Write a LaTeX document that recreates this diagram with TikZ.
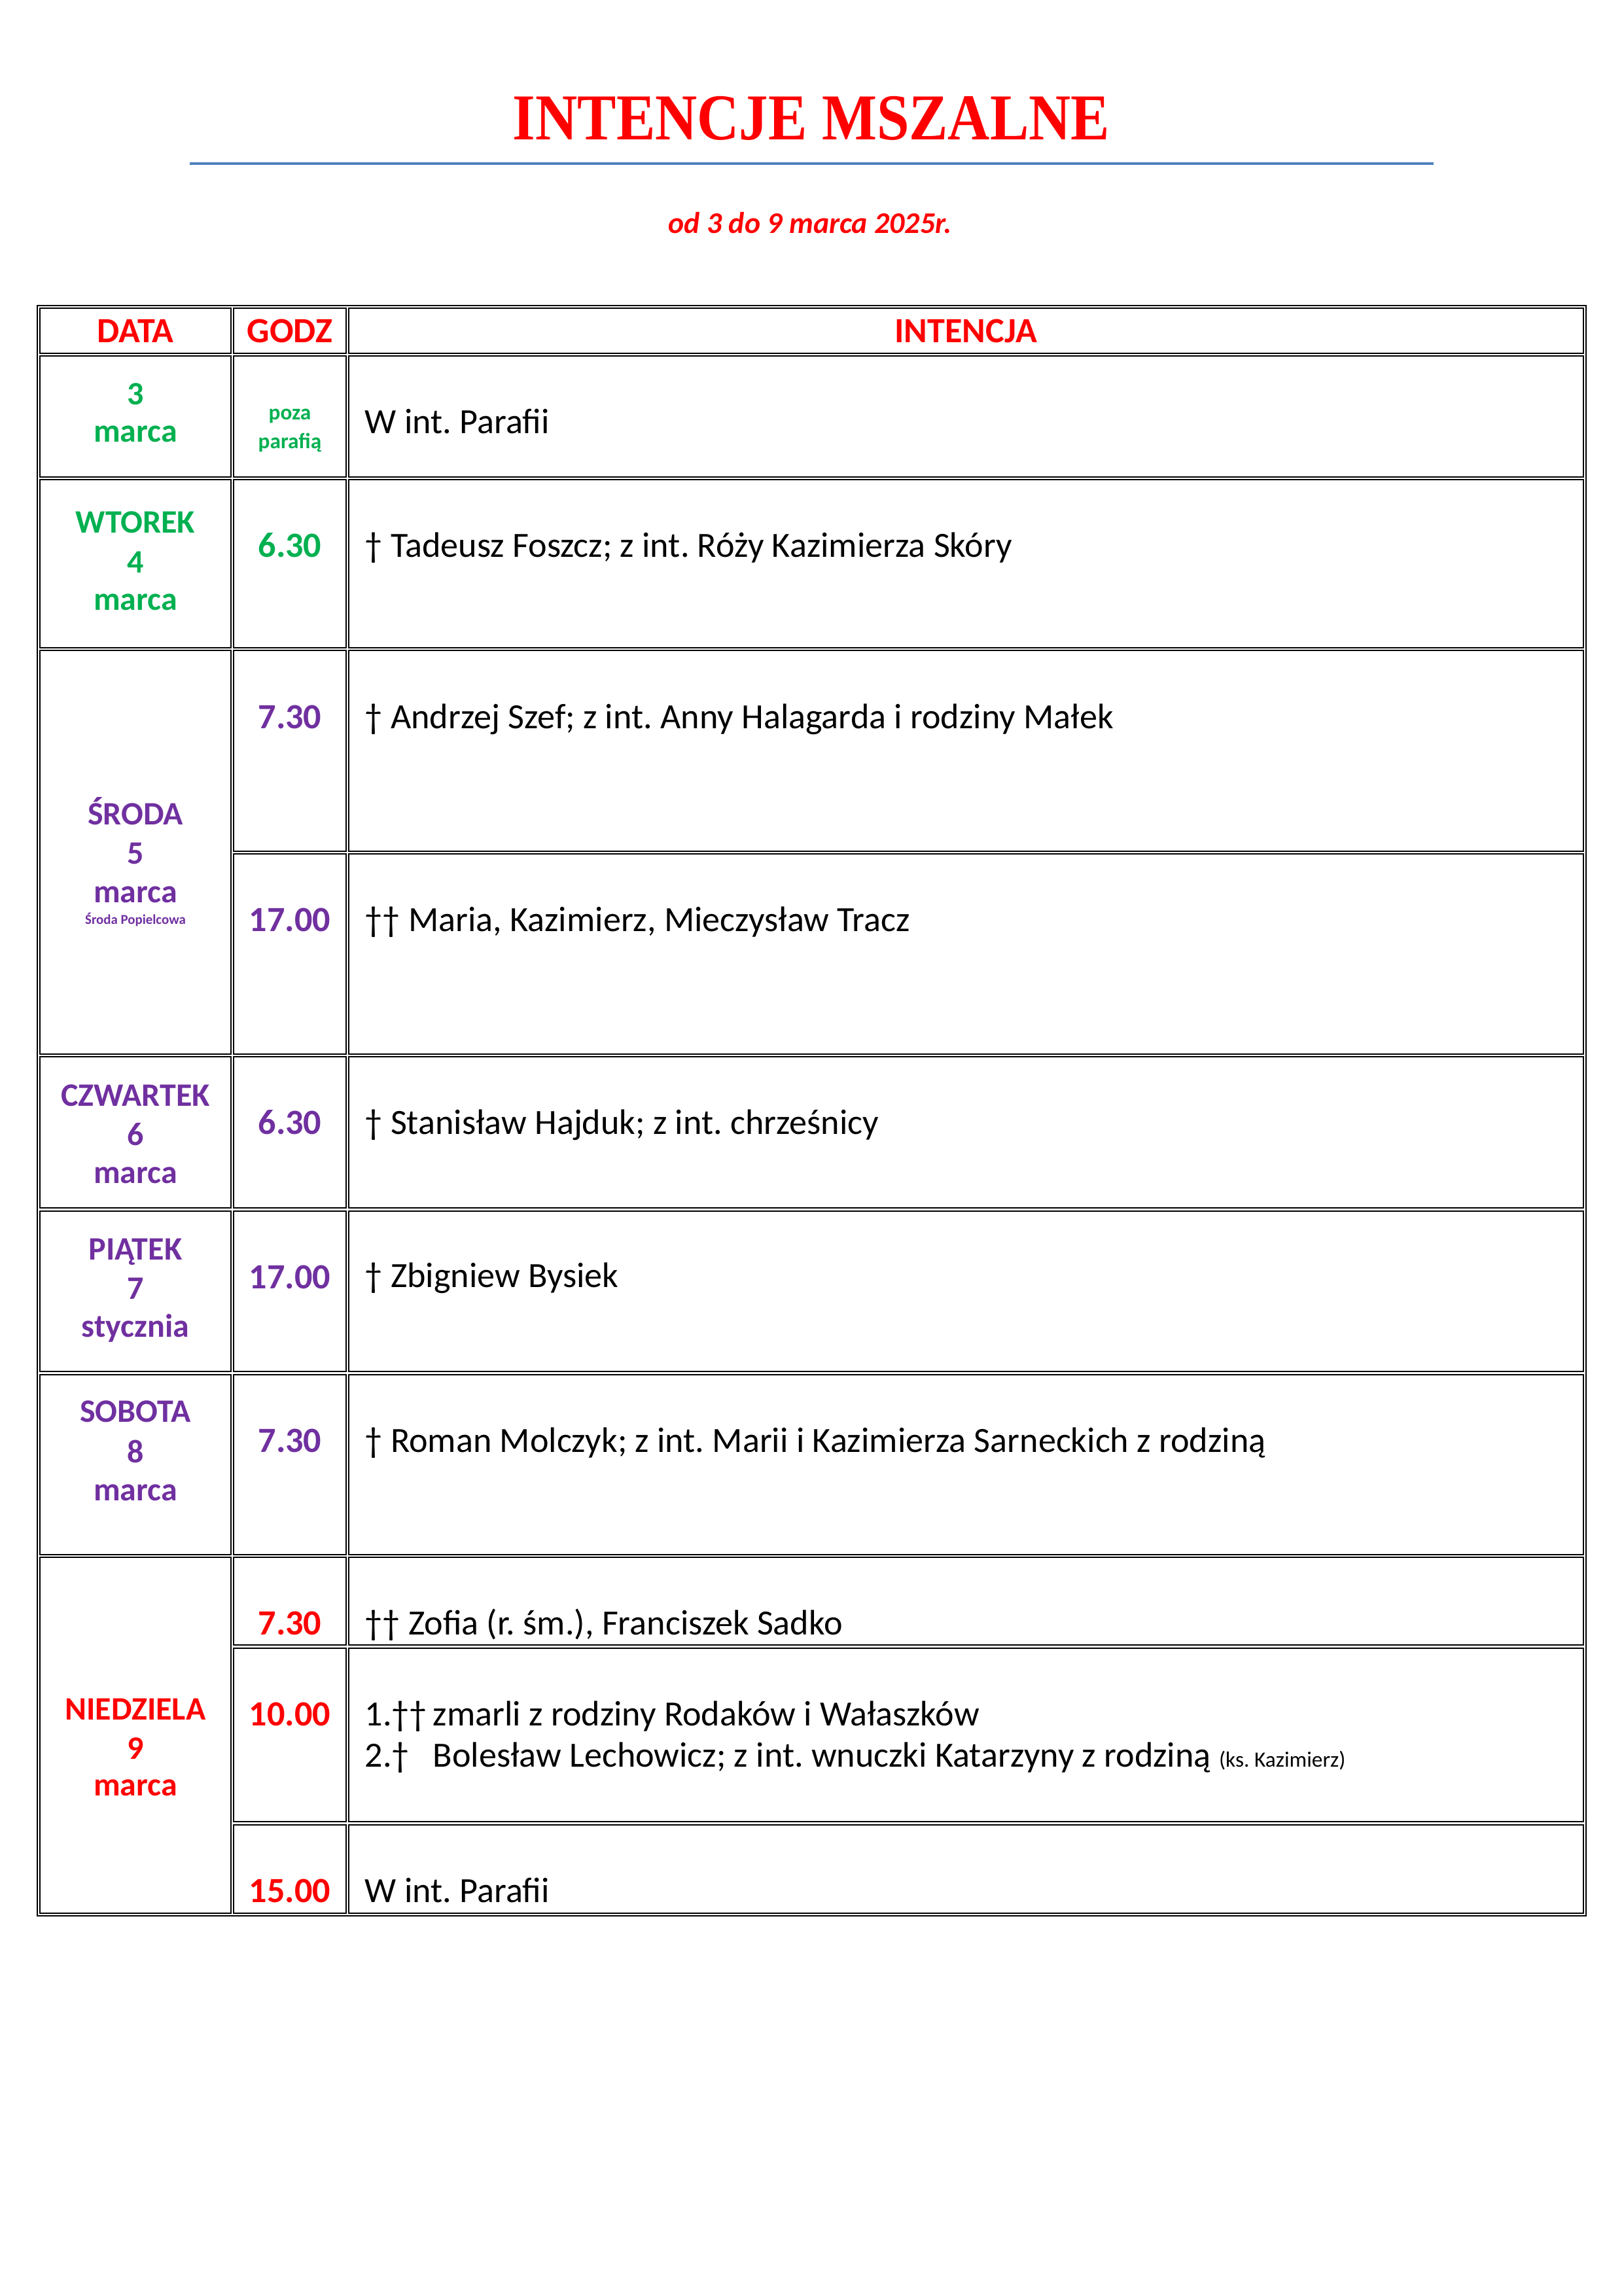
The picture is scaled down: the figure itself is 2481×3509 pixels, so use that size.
\documentclass[tikz,border=0pt]{standalone}
\usepackage{fontspec}
\setmainfont{Carlito}
\newfontfamily\titlefont[FakeStretch=0.89]{Liberation Serif}
\definecolor{kred}{HTML}{FF0000}
\definecolor{kgreen}{HTML}{00B050}
\definecolor{kpurple}{HTML}{7030A0}
\definecolor{kblue}{HTML}{4F81BD}
\frenchspacing
\begin{document}
\begin{tikzpicture}
[x=0.24pt,y=-0.24pt,
  celldecorate/.style={line width=0.35pt},%
  outerdecorate/.style={line width=0.6pt},%
  daydecorate/.style={anchor=base,inner sep=0pt,font=\bfseries\fontsize{12}{14}\selectfont},%
  hourdecorate/.style={anchor=base,inner sep=0pt,font=\bfseries\fontsize{13}{15}\selectfont},%
  textdecorate/.style={anchor=base west,inner sep=0pt,font=\fontsize{13}{15}\selectfont},%
  headdecorate/.style={anchor=base,inner sep=0pt,text=kred,font=\bfseries\fontsize{13}{15}\selectfont}]
\useasboundingbox (0,0) rectangle (2481,3509);
% title
\node (title) at (1240,214) [anchor=base,inner sep=0pt,text=kred,font=\titlefont\bfseries\fontsize{24}{28}\selectfont] {INTENCJE MSZALNE};
\draw [kblue,line width=0.75pt] (290,250) -- (2191,250);
\node (subtitle) at (1238,357) [anchor=base,inner sep=0pt,text=kred,font=\bfseries\itshape\fontsize{11}{13}\selectfont] {od 3 do 9 marca 2025r.};
% table frame and cells
\draw [outerdecorate] (57,467) rectangle (2424,2928);
\foreach \top/\bot in {471/540,544/729,733/990,994/1611,1615/1846,1851/2096,2101/2376,2380/2924}
  \draw [celldecorate] (61,\top) rectangle (353,\bot);
\foreach \top/\bot in {471/540,544/729,733/990,994/1301,1305/1611,1615/1846,1851/2096,2101/2376,2380/2514,2519/2784,2789/2924}
  {\draw [celldecorate] (357,\top) rectangle (529,\bot);
   \draw [celldecorate] (533,\top) rectangle (2420,\bot);}
% header
\node (hdata) at (207,524) [headdecorate] {DATA};
\node (hgodz) at (443,524) [headdecorate] {GODZ};
\node (hint) at (1476,524) [headdecorate] {INTENCJA};
% 3 marca
\node (d3) at (207,619) [daydecorate,text=kgreen] {3};
\node (m3) at (207,676) [daydecorate,text=kgreen] {marca};
\node (g3a) at (443,642) [hourdecorate,text=kgreen,font=\bfseries\fontsize{8}{10}\selectfont] {poza};
\node (g3b) at (443,685) [hourdecorate,text=kgreen,font=\bfseries\fontsize{8}{10}\selectfont] {parafią};
\node (i3) at (557,663) [textdecorate] {W int. Parafii};
% wtorek
\node (w4) at (207,815) [daydecorate,text=kgreen] {WTOREK};
\node (d4) at (207,875) [daydecorate,text=kgreen] {4};
\node (m4) at (207,932) [daydecorate,text=kgreen] {marca};
\node (g4) at (443,852) [hourdecorate,text=kgreen] {6.30};
\node (i4) at (557,852) [textdecorate] {† Tadeusz Foszcz; z int. Róży Kazimierza Skóry};
% sroda
\node (w5) at (207,1260) [daydecorate,text=kpurple] {ŚRODA};
\node (d5) at (207,1320) [daydecorate,text=kpurple] {5};
\node (m5) at (207,1379) [daydecorate,text=kpurple] {marca};
\node (p5) at (207,1412) [daydecorate,text=kpurple,font=\bfseries\fontsize{5}{6}\selectfont] {Środa Popielcowa};
\node (g5a) at (443,1113) [hourdecorate,text=kpurple] {7.30};
\node (i5a) at (557,1113) [textdecorate] {† Andrzej Szef; z int. Anny Halagarda i rodziny Małek};
\node (g5b) at (443,1423) [hourdecorate,text=kpurple] {17.00};
\node (i5b) at (557,1423) [textdecorate] {†† Maria, Kazimierz, Mieczysław Tracz};
% czwartek
\node (w6) at (207,1690) [daydecorate,text=kpurple] {CZWARTEK};
\node (d6) at (207,1750) [daydecorate,text=kpurple] {6};
\node (m6) at (207,1808) [daydecorate,text=kpurple] {marca};
\node (g6) at (443,1733) [hourdecorate,text=kpurple] {6.30};
\node (i6) at (557,1733) [textdecorate] {† Stanisław Hajduk; z int. chrześnicy};
% piatek
\node (w7) at (207,1925) [daydecorate,text=kpurple] {PIĄTEK};
\node (d7) at (207,1985) [daydecorate,text=kpurple] {7};
\node (m7) at (207,2043) [daydecorate,text=kpurple] {stycznia};
\node (g7) at (443,1969) [hourdecorate,text=kpurple] {17.00};
\node (i7) at (557,1967) [textdecorate] {† Zbigniew Bysiek};
% sobota
\node (w8) at (207,2173) [daydecorate,text=kpurple] {SOBOTA};
\node (d8) at (207,2235) [daydecorate,text=kpurple] {8};
\node (m8) at (207,2293) [daydecorate,text=kpurple] {marca};
\node (g8) at (443,2219) [hourdecorate,text=kpurple] {7.30};
\node (i8) at (557,2219) [textdecorate] {† Roman Molczyk; z int. Marii i Kazimierza Sarneckich z rodziną};
% niedziela
\node (w9) at (207,2628) [daydecorate,text=kred] {NIEDZIELA};
\node (d9) at (207,2688) [daydecorate,text=kred] {9};
\node (m9) at (207,2744) [daydecorate,text=kred] {marca};
\node (g9a) at (443,2498) [hourdecorate,text=kred] {7.30};
\node (i9a) at (557,2498) [textdecorate] {†† Zofia (r. śm.), Franciszek Sadko};
\node (g9b) at (443,2637) [hourdecorate,text=kred] {10.00};
\node (n9b) at (557,2637) [textdecorate] {1.††};
\node (i9b) at (661,2637) [textdecorate] {zmarli z rodziny Rodaków i Wałaszków};
\node (n9c) at (557,2700) [textdecorate] {2.†};
\node (i9c) at (661,2700) [textdecorate] {Bolesław Lechowicz; z int. wnuczki Katarzyny z rodziną {\fontsize{8}{10}\selectfont(ks. Kazimierz)}};
\node (g9d) at (443,2907) [hourdecorate,text=kred] {15.00};
\node (i9d) at (557,2907) [textdecorate] {W int. Parafii};
\end{tikzpicture}
\end{document}
